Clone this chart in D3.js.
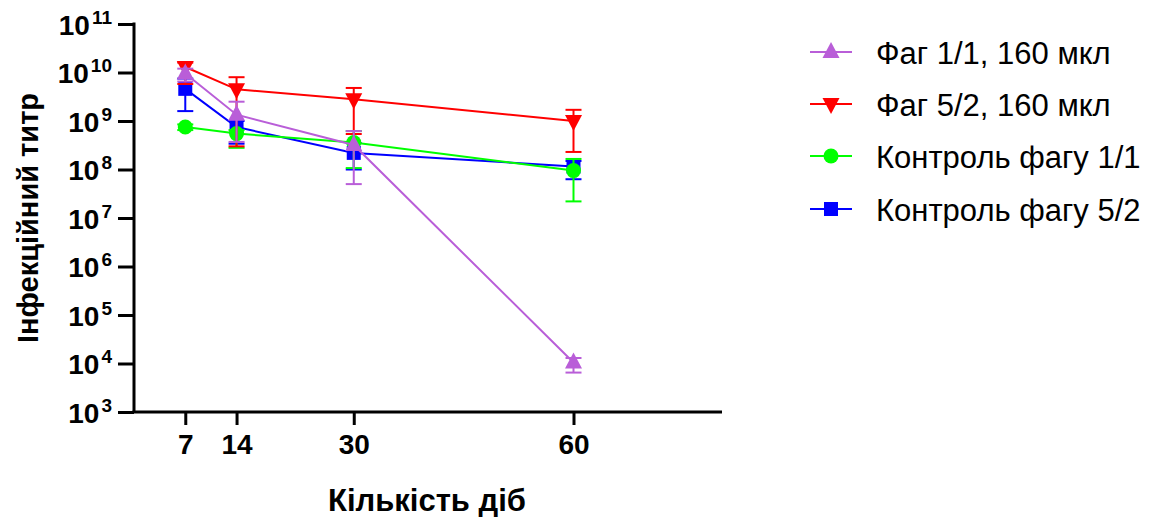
<!DOCTYPE html>
<html>
<head>
<meta charset="utf-8">
<script src="https://cdn.jsdelivr.net/npm/d3@7"></script>
<style>
  html, body { margin: 0; padding: 0; background: #fff; }
  svg { display: block; font-family: Arial, "Liberation Sans", sans-serif; }
</style>
</head>
<body>
<svg id="chart" width="1163" height="517"></svg>
<script>
// Days of observation
const days = [7, 14, 30, 60];
const xTicks = [7, 14, 30, 60];
const yTickExps = [3, 4, 5, 6, 7, 8, 9, 10, 11];

// Series: mean titre, upper and lower error limits
const seriesNames = ["Фаг 1/1, 160 мкл", "Фаг 5/2, 160 мкл", "Контроль фагу 1/1", "Контроль фагу 5/2"];

const phage11Mean = [9.5e9, 1.35e9, 3.2e8, 1.05e4];
const phage11Hi   = [1.2e10, 2.5e9, 6.2e8, 1.3e4];
const phage11Lo   = [6.5e9, 3.7e8, 5.0e7, 6.5e3];

const phage52Mean = [1.3e10, 4.5e9, 2.8e9, 1.0e9];
const phage52Hi   = [1.6e10, 8.0e9, 4.8e9, 1.7e9];
const phage52Lo   = [5.8e9, 3.0e8, 5.4e8, 2.3e8];

const ctrl11Mean = [7.5e8, 5.5e8, 3.6e8, 9.5e7];
const ctrl11Hi   = [8.5e8, 6.5e8, 6.2e8, 1.65e8];
const ctrl11Lo   = [6.5e8, 2.8e8, 1.07e8, 2.2e7];

const ctrl52Mean = [4.6e9, 7.5e8, 2.2e8, 1.15e8];
const ctrl52Hi   = [7.5e9, 1.0e9, 3.5e8, 1.5e8];
const ctrl52Lo   = [1.6e9, 3.4e8, 1.0e8, 6.3e7];

const colors = ["#b95ed8", "#ff0000", "#00ff00", "#0000ff"];
const shapes = ["triUp", "triDown", "circle", "square"];

const series = [
  { name: seriesNames[0], mean: phage11Mean, hi: phage11Hi, lo: phage11Lo, color: colors[0], shape: shapes[0] },
  { name: seriesNames[1], mean: phage52Mean, hi: phage52Hi, lo: phage52Lo, color: colors[1], shape: shapes[1] },
  { name: seriesNames[2], mean: ctrl11Mean, hi: ctrl11Hi, lo: ctrl11Lo, color: colors[2], shape: shapes[2] },
  { name: seriesNames[3], mean: ctrl52Mean, hi: ctrl52Hi, lo: ctrl52Lo, color: colors[3], shape: shapes[3] }
];

const FONT = "Arial, 'Liberation Sans', sans-serif";
const svg = d3.select("#chart");

const x = d3.scaleLinear().domain([0, 80]).range([134, 720]);
const y = d3.scaleLog().domain([1e3, 1e11]).range([412, 24]);

function markerPath(shape, cx, cy) {
  const p = d3.path();
  if (shape === "triUp") {
    p.moveTo(cx, cy - 10); p.lineTo(cx + 8.5, cy + 6); p.lineTo(cx - 8.5, cy + 6); p.closePath();
  } else if (shape === "triDown") {
    p.moveTo(cx, cy + 10); p.lineTo(cx + 8.5, cy - 6); p.lineTo(cx - 8.5, cy - 6); p.closePath();
  } else if (shape === "circle") {
    p.arc(cx, cy, 7.5, 0, 2 * Math.PI);
  } else {
    p.rect(cx - 7, cy - 7, 14, 14);
  }
  return p.toString();
}

// Axes
const yAxis = d3.axisLeft(y).tickValues(yTickExps.map(e => Math.pow(10, e)))
  .tickSize(16).tickFormat(() => "");
const gy = svg.append("g").attr("transform", "translate(134,0)").call(yAxis)
  .attr("font-family", FONT);
gy.select(".domain").attr("stroke", "#000").attr("stroke-width", 3).attr("d", "M0,413V22.5");
gy.selectAll(".tick line").attr("stroke", "#000").attr("stroke-width", 3);
gy.selectAll(".tick text").remove();
gy.selectAll(".tick").each(function(d) {
  const t = d3.select(this).append("text")
    .attr("x", -22).attr("y", 10)
    .attr("text-anchor", "end")
    .attr("fill", "#000")
    .attr("font-weight", "bold")
    .attr("font-size", 28);
  t.append("tspan").text("10");
  t.append("tspan").attr("font-size", 19).attr("dx", 2).attr("dy", -11).text(Math.round(Math.log10(d)));
});

const xAxis = d3.axisBottom(x).tickValues(xTicks).tickSize(13).tickPadding(9).tickFormat(d3.format("d"));
const gx = svg.append("g").attr("transform", "translate(0,412)").call(xAxis)
  .attr("font-family", FONT);
gx.select(".domain").attr("stroke", "#000").attr("stroke-width", 3).attr("d", "M132.5,0H722");
gx.selectAll(".tick line").attr("stroke", "#000").attr("stroke-width", 3);
gx.selectAll(".tick text").attr("fill", "#000").attr("font-weight", "bold").attr("font-size", 28);

// Axis titles
svg.append("text")
  .attr("x", 427).attr("y", 511)
  .attr("text-anchor", "middle")
  .attr("font-weight", "bold").attr("font-size", 31)
  .text("Кількість діб");

svg.append("text")
  .attr("transform", "translate(38,218) rotate(-90)")
  .attr("text-anchor", "middle")
  .attr("font-weight", "bold").attr("font-size", 29)
  .text("Інфекційний титр");

// Data layers: last series at the bottom, first on top
const plot = svg.append("g");
const drawOrder = series.slice().reverse();
const capHalf = 8;

drawOrder.forEach(s => {
  const g = plot.append("g");
  const pts = days.map((d, i) => ({ d, m: s.mean[i], hi: s.hi[i], lo: s.lo[i] }));

  g.append("path")
    .datum(pts)
    .attr("fill", "none")
    .attr("stroke", s.color)
    .attr("stroke-width", 2)
    .attr("d", d3.line().x(p => x(p.d)).y(p => y(p.m)));

  const eb = g.selectAll(".eb").data(pts).join("g");
  eb.append("line")
    .attr("x1", p => x(p.d)).attr("x2", p => x(p.d))
    .attr("y1", p => y(p.hi)).attr("y2", p => y(p.lo))
    .attr("stroke", s.color).attr("stroke-width", 2);
  eb.append("line")
    .attr("x1", p => x(p.d) - capHalf).attr("x2", p => x(p.d) + capHalf)
    .attr("y1", p => y(p.hi)).attr("y2", p => y(p.hi))
    .attr("stroke", s.color).attr("stroke-width", 2);
  eb.append("line")
    .attr("x1", p => x(p.d) - capHalf).attr("x2", p => x(p.d) + capHalf)
    .attr("y1", p => y(p.lo)).attr("y2", p => y(p.lo))
    .attr("stroke", s.color).attr("stroke-width", 2);

  g.selectAll(".mk").data(pts).join("path")
    .attr("d", p => markerPath(s.shape, x(p.d), y(p.m)))
    .attr("fill", s.color);
});

// Legend
const legend = svg.append("g");
const legendRows = [52, 104, 156, 209];
series.forEach((s, i) => {
  const ly = legendRows[i];
  legend.append("line")
    .attr("x1", 810).attr("x2", 852).attr("y1", ly).attr("y2", ly)
    .attr("stroke", s.color).attr("stroke-width", 2);
  legend.append("path")
    .attr("d", markerPath(s.shape, 831, ly))
    .attr("fill", s.color);
  legend.append("text")
    .attr("x", 876).attr("y", ly + 12)
    .attr("font-size", 31)
    .attr("fill", "#000")
    .text(s.name);
});
</script>
</body>
</html>
